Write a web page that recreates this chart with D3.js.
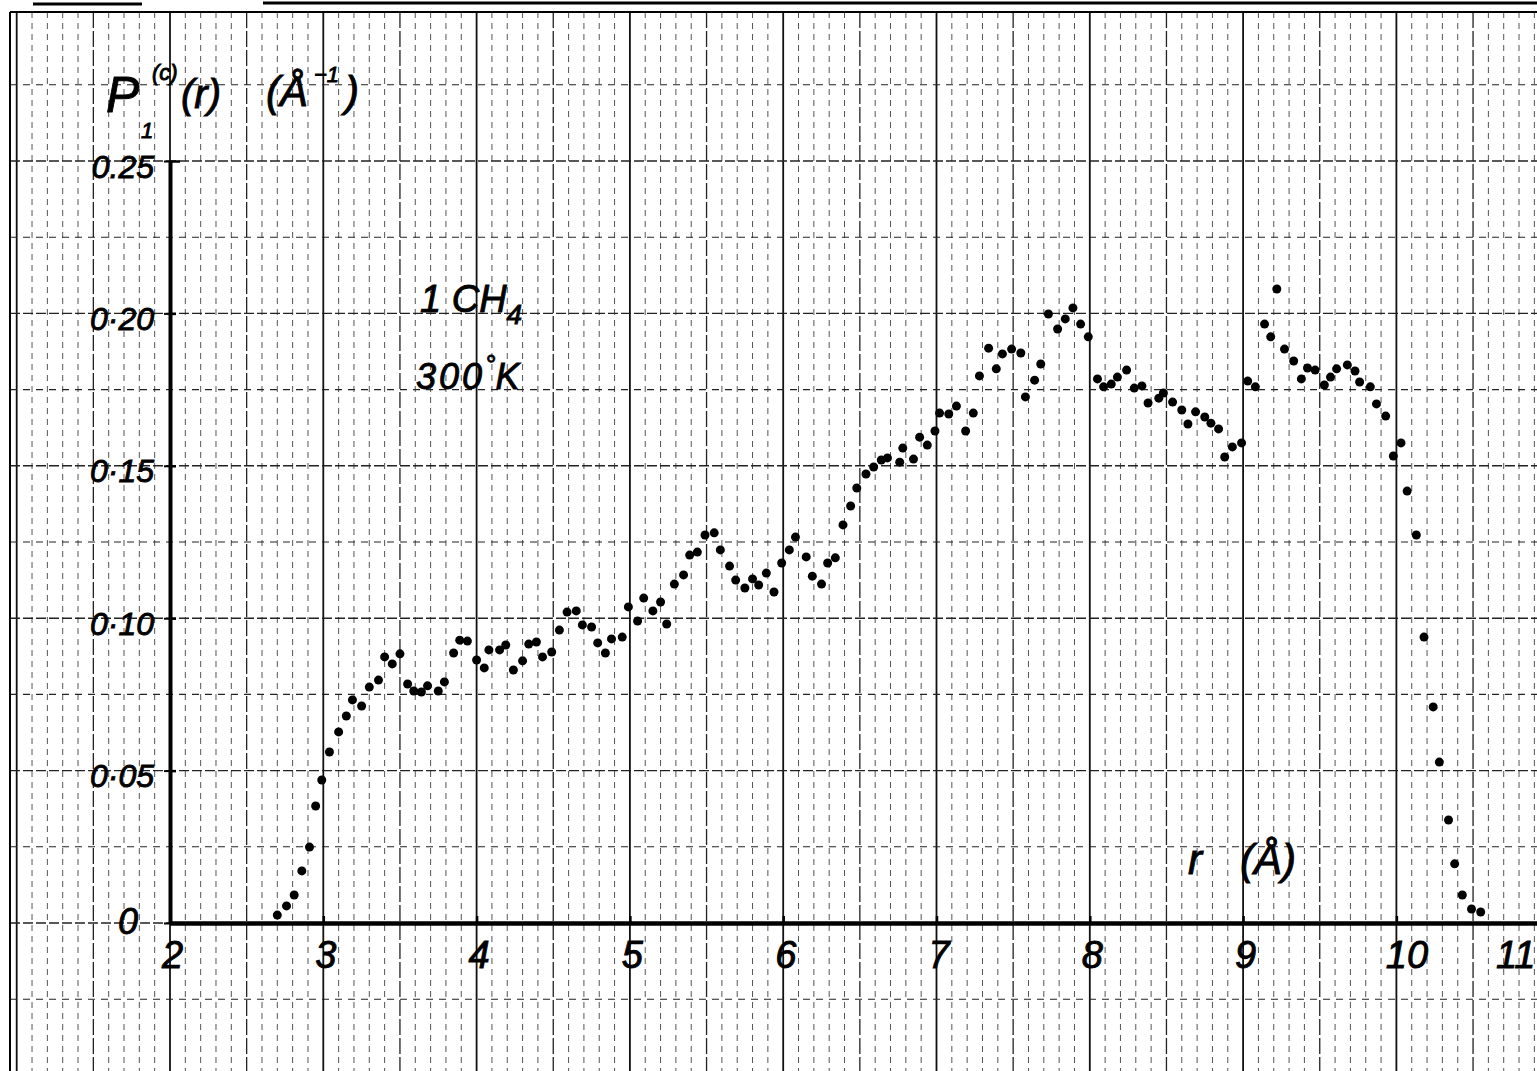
<!DOCTYPE html>
<html>
<head>
<meta charset="utf-8">
<script src="https://cdn.jsdelivr.net/npm/d3@7"></script>
<style>
  body { margin: 0; background: #fff; }
  text { font-family: 'Liberation Sans', 'DejaVu Sans', sans-serif; font-style: italic; fill: #000; stroke: #000; stroke-width: 0.9px; }
</style>
</head>
<body>
<script>
// r values (Angstrom)
var rValues = [
  2.70,2.76,2.81,2.86,2.91,2.95,2.99,3.04,3.10,3.15,
  3.19,3.25,3.30,3.36,3.40,3.45,3.50,3.55,3.59,3.64,
  3.68,3.75,3.79,3.85,3.89,3.94,4.00,4.05,4.08,4.15,
  4.19,4.24,4.30,4.34,4.39,4.43,4.49,4.54,4.59,4.65,
  4.69,4.75,4.79,4.84,4.88,4.95,4.99,5.05,5.09,5.15,
  5.20,5.24,5.29,5.35,5.39,5.44,5.49,5.55,5.59,5.65,
  5.69,5.75,5.80,5.84,5.89,5.94,5.99,6.04,6.08,6.15,
  6.19,6.25,6.29,6.34,6.39,6.44,6.48,6.54,6.59,6.64,
  6.68,6.76,6.78,6.85,6.89,6.94,6.99,7.02,7.08,7.13,
  7.19,7.24,7.28,7.34,7.39,7.43,7.49,7.55,7.58,7.64,
  7.68,7.73,7.79,7.84,7.89,7.94,7.99,8.05,8.09,8.14,
  8.18,8.24,8.29,8.34,8.38,8.45,8.48,8.54,8.60,8.64,
  8.69,8.75,8.79,8.84,8.88,8.93,8.99,9.03,9.08,9.14,
  9.18,9.22,9.27,9.33,9.38,9.42,9.47,9.53,9.57,9.61,
  9.68,9.73,9.76,9.83,9.87,9.93,9.98,10.03,10.07,10.13,
  10.18,10.24,10.28,10.34,10.38,10.43,10.49,10.55
]

// P1(c)(r) values (1/Angstrom)
var pValues = [
  .0026,.0056,.0092,.0171,.0249,.0384,.0469,.0561,.0627,.0679,
  .0732,.0712,.0774,.0797,.0873,.0850,.0883,.0784,.0761,.0758,
  .0778,.0761,.0791,.0886,.0928,.0925,.0863,.0837,.0896,.0896,
  .0912,.0830,.0860,.0915,.0922,.0873,.0889,.0961,.1020,.1024,
  .0978,.0971,.0919,.0886,.0932,.0938,.1037,.0991,.1066,.1024,
  .1053,.0981,.1112,.1142,.1207,.1217,.1273,.1280,.1224,.1171,
  .1125,.1099,.1129,.1109,.1148,.1086,.1181,.1224,.1266,.1201,
  .1138,.1112,.1181,.1198,.1306,.1368,.1427,.1473,.1496,.1519,
  .1526,.1512,.1558,.1522,.1594,.1568,.1614,.1673,.1670,.1696,
  .1614,.1673,.1795,.1886,.1818,.1867,.1883,.1870,.1726,.1781,
  .1834,.1998,.1949,.1982,.2018,.1965,.1923,.1785,.1759,.1768,
  .1791,.1814,.1755,.1762,.1706,.1722,.1739,.1709,.1683,.1637,
  .1677,.1660,.1640,.1621,.1529,.1562,.1575,.1778,.1759,.1965,
  .1923,.2080,.1883,.1844,.1785,.1821,.1814,.1765,.1791,.1818,
  .1831,.1811,.1775,.1759,.1703,.1663,.1532,.1575,.1417,.1273,
  .0938,.0709,.0528,.0338,.0194,.0092,.0046,.0036
]

var xTicks = [2, 3, 4, 5, 6, 7, 8, 9, 10, 11]
var xTickLabels = ['2', '3', '4', '5', '6', '7', '8', '9', '10', '11']
var yTicks = [0, 0.05, 0.10, 0.15, 0.20, 0.25]
var yTickLabels = ['0', '0·05', '0·10', '0·15', '0·20', '0.25']

var W = 1537, H = 1071
var svg = d3.select('body').append('svg')
    .attr('width', W)
    .attr('height', H)

svg.append('rect').attr('width', W).attr('height', H).attr('fill', '#fff')

var x = d3.scaleLinear().domain([2, 11]).range([170, 1549.7])
var y = d3.scaleLinear().domain([0, 0.25]).range([923, 161])

var frameLeft = 10, frameTop = 12

// graph paper: vertical lines every 0.1
var grid = svg.append('g')
grid.selectAll('.vline')
    .data(d3.range(10, 111))
    .enter().append('line')
    .attr('x1', function(d) { return x(d / 10) })
    .attr('x2', function(d) { return x(d / 10) })
    .attr('y1', frameTop)
    .attr('y2', H)
    .attr('stroke', function(d) { return d % 10 === 0 ? '#111' : (d % 5 === 0 ? '#222' : '#555') })
    .attr('stroke-width', function(d) { return d % 10 === 0 ? 1.8 : (d % 5 === 0 ? 1.3 : 1) })
    .attr('stroke-dasharray', function(d) { return d % 10 === 0 ? null : (d % 5 === 0 ? '16,3' : '6,5') })

// horizontal lines every 0.025
grid.selectAll('.hline')
    .data(d3.range(-1, 12))
    .enter().append('line')
    .attr('x1', frameLeft)
    .attr('x2', W)
    .attr('y1', function(d) { return y(d * 0.025) })
    .attr('y2', function(d) { return y(d * 0.025) })
    .attr('stroke', '#222')
    .attr('stroke-width', function(d) { return d % 2 === 0 ? 1.4 : 1.1 })
    .attr('stroke-dasharray', function(d) { return d % 2 === 0 ? '10,3' : '7,6' })

// frame of the sheet
svg.append('line').attr('x1', frameLeft).attr('x2', W).attr('y1', frameTop).attr('y2', frameTop)
    .attr('stroke', '#000').attr('stroke-width', 2)
svg.append('line').attr('x1', frameLeft).attr('x2', frameLeft).attr('y1', frameTop).attr('y2', H)
    .attr('stroke', '#000').attr('stroke-width', 2)
// cut-off header rules
svg.append('line').attr('x1', 33).attr('x2', 142).attr('y1', 4).attr('y2', 4)
    .attr('stroke', '#000').attr('stroke-width', 3)
svg.append('line').attr('x1', 263).attr('x2', W).attr('y1', 3).attr('y2', 3)
    .attr('stroke', '#000').attr('stroke-width', 3)

// x axis
var gx = svg.append('g')
    .attr('transform', 'translate(0,' + y(0) + ')')
    .call(d3.axisBottom(x)
        .tickValues(xTicks)
        .tickFormat(function(d, i) { return xTickLabels[i] })
        .tickSizeInner(-7)
        .tickSizeOuter(0))
gx.select('.domain').attr('stroke', '#000').attr('stroke-width', 4.5)
gx.selectAll('.tick line').attr('stroke', '#000').attr('stroke-width', 2.5)
gx.selectAll('.tick text')
    .attr('y', 45).attr('dy', 0)
    .attr('font-size', 38)
    .attr('font-family', null)
    .attr('text-anchor', function(d) { return d === 11 ? 'end' : 'middle' })
    .attr('x', function(d) { return d === 11 ? W - x(11) - 2 : (d === 10 ? 10 : 2) })

// y axis
var gy = svg.append('g')
    .attr('transform', 'translate(' + x(2) + ',0)')
    .call(d3.axisLeft(y)
        .tickValues(yTicks)
        .tickFormat(function(d, i) { return yTickLabels[i] })
        .tickSizeInner(6)
        .tickSizeOuter(0)
        .tickPadding(14))
gy.select('.domain').attr('stroke', '#000').attr('stroke-width', 4)
gy.selectAll('.tick line').attr('stroke', '#000').attr('stroke-width', 2)
gy.selectAll('.tick text')
    .attr('dy', function(d) { return d === 0 ? 10 : 16 })
    .attr('x', function(d) { return d === 0 ? -32 : -16 })
    .attr('font-size', function(d) { return d === 0 ? 36 : 32 })
    .attr('font-family', null)

// ticks to the right of the y axis
var gyr = svg.append('g')
    .attr('transform', 'translate(' + x(2) + ',0)')
    .call(d3.axisRight(y).tickValues(yTicks).tickFormat('').tickSizeInner(6).tickSizeOuter(0))
gyr.select('.domain').remove()
gyr.selectAll('.tick line')
    .attr('stroke', '#000')
    .attr('stroke-width', 2.5)
    .attr('x2', function(d) { return d === 0.25 ? 10 : 6 })

// data points
svg.append('g').selectAll('circle')
    .data(rValues)
    .enter().append('circle')
    .attr('cx', function(d) { return x(d) })
    .attr('cy', function(d, i) { return y(pValues[i]) })
    .attr('r', 4.5)
    .attr('fill', '#000')

// y axis title  P1(c)(r)  (Å-1)
var t = svg.append('g')
t.append('text').attr('x', 106).attr('y', 112).attr('font-size', 50).text('P')
t.append('text').attr('x', 152).attr('y', 80).attr('font-size', 22).text('(c)')
t.append('text').attr('x', 141).attr('y', 138).attr('font-size', 22).text('1')
t.append('text').attr('x', 181).attr('y', 108).attr('font-size', 40).text('(r)')
t.append('text').attr('x', 266).attr('y', 106).attr('font-size', 42).text('(Å')
t.append('text').attr('x', 314).attr('y', 82).attr('font-size', 22).text('−1')
t.append('text').attr('x', 345).attr('y', 106).attr('font-size', 42).text(')')

// sample annotation
var a = svg.append('g')
var l1 = a.append('text').attr('x', 420).attr('y', 312).attr('font-size', 38)
l1.append('tspan').text('1 CH')
l1.append('tspan').attr('font-size', 28).attr('dy', 12).text('4')
var l2 = a.append('text').attr('x', 416).attr('y', 389).attr('font-size', 36)
l2.append('tspan').attr('letter-spacing', 3).text('300')
l2.append('tspan').attr('font-size', 26).attr('dy', -16).text('°')
l2.append('tspan').attr('dy', 16).text('K')

// x axis title
a.append('text').attr('x', 1188).attr('y', 874).attr('font-size', 42).text('r')
a.append('text').attr('x', 1240).attr('y', 874).attr('font-size', 42).text('(Å)')
</script>
</body>
</html>
